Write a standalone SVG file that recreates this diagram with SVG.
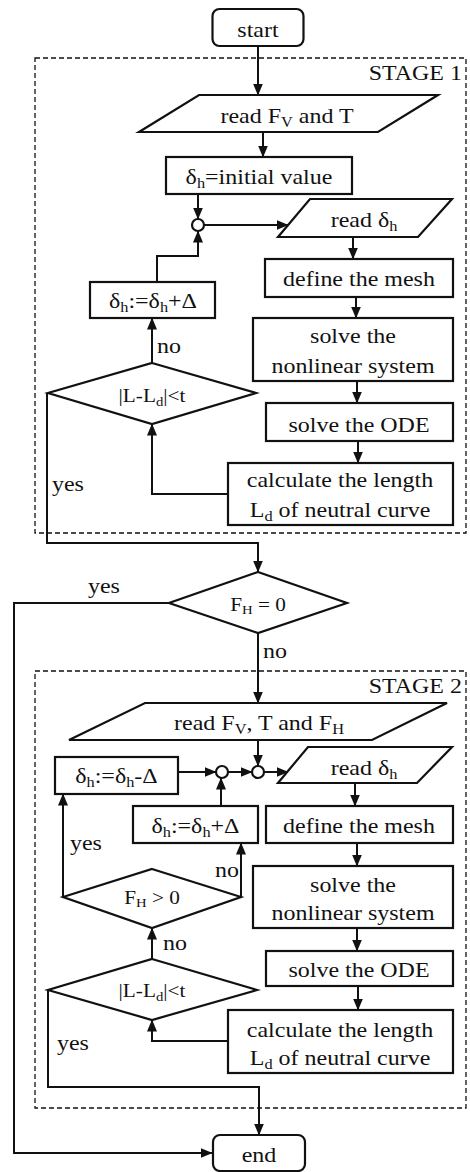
<svg xmlns="http://www.w3.org/2000/svg" width="470" height="1172" viewBox="0 0 470 1172">
<style>
.n{fill:#fff;stroke:#111;stroke-width:2.2;stroke-linejoin:miter}
.c{fill:none;stroke:#111;stroke-width:2}
.s{fill:none;stroke:#111;stroke-width:1.3;stroke-dasharray:5,3}
text{font-family:"Liberation Serif","Times New Roman",serif;font-size:22px;fill:#111}
.m{text-anchor:middle}
.e{text-anchor:end}
.sm{font-size:19.5px}
.sb{font-size:15px}
.sd{font-size:13.5px}
</style>
<defs>
<marker id="a" markerUnits="userSpaceOnUse" markerWidth="12" markerHeight="10" viewBox="0 0 12 10" refX="11.5" refY="5" orient="auto">
<path d="M0,0 L12,5 L0,10 z" fill="#111"/>
</marker>
</defs>
<rect width="470" height="1172" fill="#fff"/>
<g id="stages">
<rect class="s" x="35" y="58" width="431" height="475"/>
<text class="e" transform="translate(462,80) scale(1.09,1)">STAGE 1</text>
<rect class="s" x="35" y="671" width="431" height="437"/>
<text class="e" transform="translate(462,693) scale(1.09,1)">STAGE 2</text>
</g>
<g id="connectors">
<path class="c" marker-end="url(#a)" d="M258,46 V95"/>
<path class="c" marker-end="url(#a)" d="M263,132 V157"/>
<path class="c" marker-end="url(#a)" d="M198,194 V219"/>
<path class="c" marker-end="url(#a)" d="M157,282 V256 H198 V231"/>
<path class="c" marker-end="url(#a)" d="M204,225 H288"/>
<path class="c" marker-end="url(#a)" d="M353,237 V259"/>
<path class="c" marker-end="url(#a)" d="M356,297 V318"/>
<path class="c" marker-end="url(#a)" d="M357,381 V403"/>
<path class="c" marker-end="url(#a)" d="M358,441 V463"/>
<path class="c" marker-end="url(#a)" d="M228,494 H152 V424"/>
<path class="c" marker-end="url(#a)" d="M152,363 V318"/>
<path class="c" marker-end="url(#a)" d="M47,393 V543 H258 V572"/>
<path class="c" marker-end="url(#a)" d="M169,603 H14 V1153 H212"/>
<path class="c" marker-end="url(#a)" d="M258,633 V703"/>
<path class="c" marker-end="url(#a)" d="M258,740 V766"/>
<path class="c" marker-end="url(#a)" d="M178,772 H216"/>
<path class="c" marker-end="url(#a)" d="M228,772 H252"/>
<path class="c" marker-end="url(#a)" d="M264,772 H288"/>
<path class="c" marker-end="url(#a)" d="M221,806 V778"/>
<path class="c" marker-end="url(#a)" d="M355,783 V806"/>
<path class="c" marker-end="url(#a)" d="M357,843 V866"/>
<path class="c" marker-end="url(#a)" d="M63,897 V794"/>
<path class="c" marker-end="url(#a)" d="M241,897 V843"/>
<path class="c" marker-end="url(#a)" d="M357,928 V951"/>
<path class="c" marker-end="url(#a)" d="M358,986 V1010"/>
<path class="c" marker-end="url(#a)" d="M152,959 V928"/>
<path class="c" marker-end="url(#a)" d="M228,1041 H152 V1020"/>
<path class="c" marker-end="url(#a)" d="M48,990 V1087 H259 V1135"/>
<text transform="translate(157,353) scale(1.09,1)">no</text>
<text transform="translate(52,491) scale(1.09,1)">yes</text>
<text transform="translate(88,593) scale(1.09,1)">yes</text>
<text transform="translate(263,658) scale(1.09,1)">no</text>
<text transform="translate(70,850) scale(1.09,1)">yes</text>
<text transform="translate(215,877) scale(1.09,1)">no</text>
<text transform="translate(163,950) scale(1.09,1)">no</text>
<text transform="translate(57,1050) scale(1.09,1)">yes</text>
</g>
<g id="start">
<rect class="n" x="212.5" y="9" width="91" height="37" rx="7"/>
<text class="m" transform="translate(258,37) scale(1.09,1)">start</text>
</g>
<g id="readFvT">
<polygon class="n" points="199,95 438,95 378,132 139,132"/>
<text class="m" transform="translate(287,123) scale(1.09,1)">read F<tspan class="sb" dy="4">V</tspan><tspan dy="-4"> and T</tspan></text>
</g>
<g id="initial">
<rect class="n" x="166" y="157" width="186" height="37"/>
<text class="m" transform="translate(259,184) scale(1.09,1)">δ<tspan class="sb" dy="4">h</tspan><tspan dy="-4">=initial value</tspan></text>
</g>
<g id="join1">
<circle class="n" cx="198" cy="225" r="6" stroke-width="2"/>
</g>
<g id="readDh1">
<polygon class="n" points="310,199 452,199 418,237 278,237"/>
<text class="m" transform="translate(364,227) scale(1.09,1)">read δ<tspan class="sb" dy="4">h</tspan></text>
</g>
<g id="inc1">
<rect class="n" x="90" y="282" width="125" height="36"/>
<text class="m" transform="translate(153,308) scale(1.09,1)">δ<tspan class="sb" dy="4">h</tspan><tspan dy="-4">:=δ</tspan><tspan class="sb" dy="4">h</tspan><tspan dy="-4">+Δ</tspan></text>
</g>
<g id="mesh1">
<rect class="n" x="265" y="259" width="188" height="38"/>
<text class="m" transform="translate(359,286) scale(1.09,1)">define the mesh</text>
</g>
<g id="nonlin1">
<rect class="n" x="253" y="318" width="200" height="63"/>
<text class="m" transform="translate(353,343) scale(1.09,1)">solve the</text>
<text class="m" transform="translate(353,373) scale(1.09,1)">nonlinear system</text>
</g>
<g id="test1">
<polygon class="n" points="152,363 256,393 152,424 48,393"/>
<text class="m sm" transform="translate(152,402) scale(1.09,1)">|L-L<tspan class="sd" dy="4">d</tspan><tspan dy="-4">|&lt;t</tspan></text>
</g>
<g id="ode1">
<rect class="n" x="266" y="403" width="187" height="38"/>
<text class="m" transform="translate(359,432) scale(1.09,1)">solve the ODE</text>
</g>
<g id="calc1">
<rect class="n" x="228" y="463" width="225" height="62"/>
<text class="m" transform="translate(340,487) scale(1.09,1)">calculate the length</text>
<text class="m" transform="translate(340,517) scale(1.09,1)">L<tspan class="sb" dy="4">d</tspan><tspan dy="-4"> of neutral curve</tspan></text>
</g>
<g id="fh0">
<polygon class="n" points="258,572 347,603 258,633 169,603"/>
<text class="m sm" transform="translate(258,611) scale(1.09,1)">F<tspan class="sd" dy="3">H</tspan><tspan dy="-3"> = 0</tspan></text>
</g>
<g id="readAll">
<polygon class="n" points="145,703 447,703 372,740 69,740"/>
<text class="m" transform="translate(259,730) scale(1.09,1)">read F<tspan class="sb" dy="4">V</tspan><tspan dy="-4">, T and F</tspan><tspan class="sb" dy="4">H</tspan></text>
</g>
<g id="dec2">
<rect class="n" x="55" y="757" width="123" height="37"/>
<text class="m" transform="translate(116.5,783) scale(1.09,1)">δ<tspan class="sb" dy="4">h</tspan><tspan dy="-4">:=δ</tspan><tspan class="sb" dy="4">h</tspan><tspan dy="-4">-Δ</tspan></text>
</g>
<g id="join2">
<circle class="n" cx="222" cy="772" r="6" stroke-width="2"/>
</g>
<g id="join3">
<circle class="n" cx="258" cy="772" r="6" stroke-width="2"/>
</g>
<g id="readDh2">
<polygon class="n" points="308,747 452,747 417,783 278,783"/>
<text class="m" transform="translate(364,775) scale(1.09,1)">read δ<tspan class="sb" dy="4">h</tspan></text>
</g>
<g id="inc2">
<rect class="n" x="133" y="806" width="125" height="37"/>
<text class="m" transform="translate(195.5,833) scale(1.09,1)">δ<tspan class="sb" dy="4">h</tspan><tspan dy="-4">:=δ</tspan><tspan class="sb" dy="4">h</tspan><tspan dy="-4">+Δ</tspan></text>
</g>
<g id="mesh2">
<rect class="n" x="266" y="806" width="187" height="37"/>
<text class="m" transform="translate(359,833) scale(1.09,1)">define the mesh</text>
</g>
<g id="nonlin2">
<rect class="n" x="253" y="866" width="200" height="62"/>
<text class="m" transform="translate(353,892) scale(1.09,1)">solve the</text>
<text class="m" transform="translate(353,920) scale(1.09,1)">nonlinear system</text>
</g>
<g id="fhpos">
<polygon class="n" points="152,869 241,897 152,928 63,897"/>
<text class="m sm" transform="translate(152,904) scale(1.09,1)">F<tspan class="sd" dy="3">H</tspan><tspan dy="-3"> &gt; 0</tspan></text>
</g>
<g id="ode2">
<rect class="n" x="266" y="951" width="187" height="35"/>
<text class="m" transform="translate(359,977) scale(1.09,1)">solve the ODE</text>
</g>
<g id="test2">
<polygon class="n" points="152,959 257,990 152,1020 48,990"/>
<text class="m sm" transform="translate(152,997) scale(1.09,1)">|L-L<tspan class="sd" dy="4">d</tspan><tspan dy="-4">|&lt;t</tspan></text>
</g>
<g id="calc2">
<rect class="n" x="228" y="1010" width="225" height="63"/>
<text class="m" transform="translate(340,1037) scale(1.09,1)">calculate the length</text>
<text class="m" transform="translate(340,1065) scale(1.09,1)">L<tspan class="sb" dy="4">d</tspan><tspan dy="-4"> of neutral curve</tspan></text>
</g>
<g id="end">
<rect class="n" x="213" y="1135" width="92" height="36" rx="7"/>
<text class="m" transform="translate(259,1162) scale(1.09,1)">end</text>
</g>
</svg>
